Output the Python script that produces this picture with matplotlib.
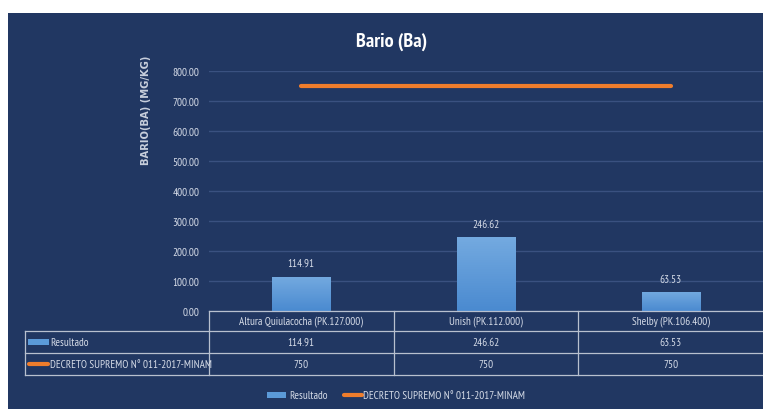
import numpy as np
import matplotlib
matplotlib.use("Agg")
import matplotlib.pyplot as plt
from matplotlib.patches import Rectangle
from matplotlib.lines import Line2D
import matplotlib.transforms as mtransforms

# data
sites = ["Altura Quiulacocha (PK.127.000)", "Unish (PK.112.000)", "Shelby (PK.106.400)"]
resultado = [114.91, 246.62, 63.53]
decreto = [750, 750, 750]
series_names = ["Resultado", "DECRETO SUPREMO N° 011-2017-MINAM"]

NAVY = "#213762"
GRID = "#3a5180"
TXT = "#d6dce8"
TABLE_LINE = "#b8c0cf"
BAR_TOP = "#74aae0"
BAR_BOT = "#4a8ad0"
ORANGE = "#ef7d2c"

narrow = ["PT Sans Narrow", "DejaVu Sans"]
FS = 8

W, H = 763, 410
fig = plt.figure(figsize=(W / 100, H / 100), dpi=100, facecolor="white")

# navy chart background
fig.patches.append(Rectangle((8 / W, 0), 1 - 8 / W, 1 - 14 / H, transform=fig.transFigure,
                             facecolor=NAVY, edgecolor="none", zorder=-10))

ax = fig.add_axes([209 / W, 1 - 312 / H, (W - 209) / W, 240 / H])
ax.set_facecolor("none")
x = np.arange(len(sites))
ax.set_yticks(np.arange(0, 801, 100))
ax.set_yticklabels([f"{v:.2f}" for v in np.arange(0, 801, 100)], family=narrow,
                   fontsize=FS, color=TXT)
ax.tick_params(axis="y", length=0, pad=7)
ax.set_xticks([])
for s in ax.spines.values():
    s.set_visible(False)
ax.grid(axis="y", color=GRID, linewidth=1)
ax.set_axisbelow(True)

# bars with vertical gradient
bw = 0.315
grad = np.linspace(0, 1, 256).reshape(-1, 1)
cmap = matplotlib.colors.LinearSegmentedColormap.from_list("barg", [BAR_BOT, BAR_TOP])
for xi, v in zip(x, resultado):
    rect = Rectangle((xi - bw / 2, 0), bw, v, facecolor="none", edgecolor="none")
    ax.add_patch(rect)
    im = ax.imshow(grad, extent=(xi - bw / 2, xi + bw / 2, 0, v), origin="lower",
                   cmap=cmap, aspect="auto", zorder=2)
    im.set_clip_path(rect)
    ax.text(xi, v + 28, f"{v:.2f}", ha="center", va="bottom", family=narrow,
            fontsize=FS, color=TXT)

# limit line
ax.plot(x, decreto, color=ORANGE, linewidth=3, solid_capstyle="round", zorder=3)
ax.set_xlim(-0.5, len(sites) - 0.5)
ax.set_ylim(0, 800)

# title and axis label
fig.text(392 / W, 1 - 42 / H, "Bario (Ba)", ha="center", va="center",
         fontsize=14.5, fontweight="bold", color="white", family=narrow)
fig.text(146 / W, 1 - 110 / H, "BARIO(BA) (MG/KG)", rotation=90, ha="center", va="center",
         fontsize=7.2, fontweight="bold", color="#c8cfdc", family=["DejaVu Sans"])

# data table below the axes
tr = mtransforms.blended_transform_factory(ax.transData, fig.transFigure)
row_y = [312, 332, 354, 376]
fy = [1 - r / H for r in row_y]
x_left_fig = 25 / W

lines_kw = dict(color=TABLE_LINE, linewidth=0.9)
# header row spans only category columns
ax.add_line(Line2D([-0.5, 2.5], [fy[0], fy[0]], transform=tr, clip_on=False, **lines_kw))
for yy in fy[1:]:
    fig.add_artist(Line2D([x_left_fig, 1], [yy, yy], transform=fig.transFigure, **lines_kw))
for b in [-0.5, 0.5, 1.5]:
    ax.add_line(Line2D([b, b], [fy[0], fy[3]], transform=tr, clip_on=False, **lines_kw))
fig.add_artist(Line2D([x_left_fig, x_left_fig], [fy[1], fy[3]], transform=fig.transFigure, **lines_kw))


def mid(i):
    return (fy[i] + fy[i + 1]) / 2


for xi, name, r, d in zip(x, sites, resultado, decreto):
    ax.text(xi, mid(0), name, transform=tr, ha="center", va="center", family=narrow,
            fontsize=FS, color=TXT, clip_on=False)
    ax.text(xi, mid(1), f"{r:.2f}", transform=tr, ha="center", va="center", family=narrow,
            fontsize=FS, color=TXT, clip_on=False)
    ax.text(xi, mid(2), f"{d}", transform=tr, ha="center", va="center", family=narrow,
            fontsize=FS, color=TXT, clip_on=False)

# row keys
fig.patches.append(Rectangle((28 / W, mid(1) - 3 / H), 21 / W, 6 / H, transform=fig.transFigure,
                             facecolor="#5b9ad8", edgecolor="none"))
fig.add_artist(Line2D([29 / W, 48 / W], [mid(2), mid(2)], color=ORANGE, linewidth=3,
                      solid_capstyle="round", transform=fig.transFigure))
fig.text(50 / W, mid(1), series_names[0], ha="left", va="center", family=narrow,
         fontsize=FS, color=TXT)
fig.text(50 / W, mid(2), series_names[1], ha="left", va="center", family=narrow,
         fontsize=FS, color=TXT)

# legend at the bottom
ly = 1 - 396 / H
fig.patches.append(Rectangle((267 / W, ly - 3 / H), 19 / W, 6 / H, transform=fig.transFigure,
                             facecolor="#5b9ad8", edgecolor="none"))
fig.text(289 / W, ly, series_names[0], ha="left", va="center", family=narrow,
         fontsize=FS, color=TXT)
fig.add_artist(Line2D([344 / W, 362 / W], [ly, ly], color=ORANGE, linewidth=3,
                      solid_capstyle="round", transform=fig.transFigure))
fig.text(363 / W, ly, series_names[1], ha="left", va="center", family=narrow,
         fontsize=FS, color=TXT)

fig.savefig("out.png", dpi=100, facecolor="white")
